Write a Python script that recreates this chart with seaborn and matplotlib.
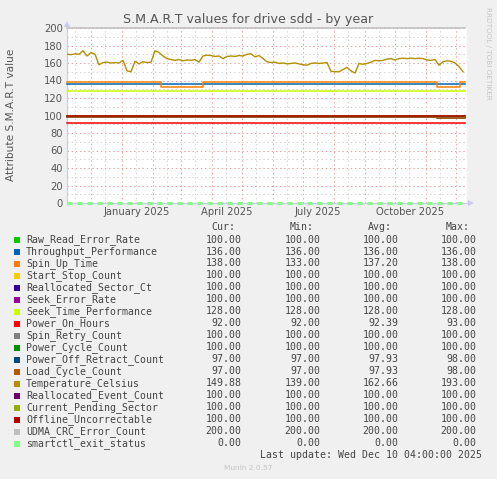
import numpy as np
import pandas as pd
import matplotlib
matplotlib.use("Agg")
import matplotlib.pyplot as plt
import matplotlib.dates as mdates
import matplotlib.transforms as mtrans
from matplotlib.ticker import MultipleLocator, NullFormatter
from matplotlib.patches import Rectangle, Polygon
import seaborn as sns

# ---------------- data ----------------
names = ["Raw_Read_Error_Rate", "Throughput_Performance", "Spin_Up_Time",
         "Start_Stop_Count", "Reallocated_Sector_Ct", "Seek_Error_Rate",
         "Seek_Time_Performance", "Power_On_Hours", "Spin_Retry_Count",
         "Power_Cycle_Count", "Power_Off_Retract_Count", "Load_Cycle_Count",
         "Temperature_Celsius", "Reallocated_Event_Count", "Current_Pending_Sector",
         "Offline_Uncorrectable", "UDMA_CRC_Error_Count", "smartctl_exit_status"]
colors = ["#00CC00", "#0066B3", "#FF8000", "#FFCC00", "#330099", "#990099",
          "#CCFF00", "#FF0000", "#808080", "#008F00", "#00487D", "#B35A00",
          "#B38F00", "#6B006B", "#8FB300", "#B30000", "#BEBEBE", "#80FF80"]
cur_vals = [100.00, 136.00, 138.00, 100.00, 100.00, 100.00, 128.00, 92.00, 100.00,
            100.00, 97.00, 97.00, 149.88, 100.00, 100.00, 100.00, 200.00, 0.00]
min_vals = [100.00, 136.00, 133.00, 100.00, 100.00, 100.00, 128.00, 92.00, 100.00,
            100.00, 97.00, 97.00, 139.00, 100.00, 100.00, 100.00, 200.00, 0.00]
avg_vals = [100.00, 136.00, 137.20, 100.00, 100.00, 100.00, 128.00, 92.39, 100.00,
            100.00, 97.93, 97.93, 162.66, 100.00, 100.00, 100.00, 200.00, 0.00]
max_vals = [100.00, 136.00, 138.00, 100.00, 100.00, 100.00, 128.00, 93.00, 100.00,
            100.00, 98.00, 98.00, 193.00, 100.00, 100.00, 100.00, 200.00, 0.00]

period_start = "2024-11-07"
period_end = "2025-12-10"

# Temperature, sampled every 4 days from period_start
temp_values = [170, 169.5, 170.5, 170, 174, 168, 172, 170, 158, 160.5,
               161, 160, 160.5, 160, 163, 151, 150, 162, 159, 161.5,
               160.5, 161, 174, 172, 168, 165, 164, 163, 164, 162.5,
               163.5, 163, 164, 161, 168, 169, 168.5, 167.5, 168, 165,
               167.5, 168, 167.5, 168.5, 168, 170, 170.5, 167, 168.5, 165,
               161.5, 160.5, 161, 159.5, 160, 159, 159.5, 160, 159, 158,
               157.5, 159.5, 160, 159.5, 160, 160.5, 150.5, 150, 150, 152.5,
               155, 151, 148.5, 159.5, 158.5, 159.5, 161, 163, 162.5, 163,
               164.5, 165, 163.5, 165, 165.5, 165, 165.5, 165, 165.5, 165,
               163.5, 163, 164, 157.5, 161.5, 162.5, 162, 160, 156, 150]

# step-wise series (change dates / values)
spin_up_dates = ["2024-11-07", "2025-02-09", "2025-03-23", "2025-11-12", "2025-12-05", "2025-12-10"]
spin_up_values = [138, 133, 138, 133, 138, 138]
retract_dates = ["2024-11-07", "2025-11-12", "2025-12-10"]
retract_values = [98, 97, 97]
load_cycle_dates = ["2024-11-07", "2025-11-12", "2025-12-10"]
load_cycle_values = [98, 97, 97]

step_series = {
    "Spin_Up_Time": (spin_up_dates, spin_up_values),
    "Power_Off_Retract_Count": (retract_dates, retract_values),
    "Load_Cycle_Count": (load_cycle_dates, load_cycle_values),
}

x_labels = ["January 2025", "April 2025", "July 2025", "October 2025"]
x_label_dates = ["2025-01-16", "2025-04-16", "2025-07-16", "2025-10-16"]

# ---------------- figure ----------------
W, H = 497, 479
BG = "#F0F0F0"
plt.rcParams["lines.scale_dashes"] = False
plt.rcParams["font.family"] = ["DejaVu Sans"]
fig = plt.figure(figsize=(W / 100, H / 100), dpi=100, facecolor=BG)
L, R, T, B = 67, 467, 28, 203
ax = fig.add_axes([L / W, 1 - B / H, (R - L) / W, (B - T) / H])
ax.set_facecolor("white")

t0 = pd.Timestamp(period_start)
t1 = pd.Timestamp(period_end)

for name, col in zip(names, colors):
    if name == "Temperature_Celsius":
        df = pd.DataFrame({"date": pd.date_range(period_start, periods=len(temp_values), freq="4D"),
                           "value": temp_values})
        sns.lineplot(data=df, x="date", y="value", color=col, lw=1.0, ax=ax,
                     estimator=None, zorder=3)
    else:
        if name in step_series:
            d, v = step_series[name]
        else:
            c = cur_vals[names.index(name)]
            d, v = [period_start, period_end], [c, c]
        df = pd.DataFrame({"date": pd.to_datetime(d), "value": v})
        kw = dict(drawstyle="steps-post", lw=1.1)
        if name == "smartctl_exit_status":
            kw = dict(lw=2.2, dashes=(3.6, 3.6))
        sns.lineplot(data=df, x="date", y="value", color=col, ax=ax,
                     estimator=None, zorder=3, clip_on=False, **kw)

ax.set_xlim(t0, t1 + pd.Timedelta(days=2))
ax.set_ylim(0, 200)
ax.set_xlabel("")
ax.set_ylabel("")

# grids
ax.yaxis.set_major_locator(MultipleLocator(20))
ax.yaxis.set_minor_locator(MultipleLocator(10))
ax.xaxis.set_major_locator(mdates.MonthLocator(bymonthday=1))
ax.xaxis.set_minor_locator(mdates.MonthLocator(bymonthday=15))
ax.xaxis.set_major_formatter(NullFormatter())
ax.grid(True, which="major", color="#F0A0A0", lw=0.75, ls=(0, (1, 2)))
ax.grid(True, which="minor", color="#D4D4D4", lw=0.75, ls=(0, (1, 2)))
ax.set_axisbelow(True)
ax.tick_params(axis="x", which="both", length=0)
ax.tick_params(axis="y", which="both", length=0, labelsize=7.2, labelcolor="#555555", pad=3)
for lab in ax.get_yticklabels():
    lab.set_fontfamily("DejaVu Sans")

for s in ["top", "right"]:
    ax.spines[s].set_visible(False)
ax.spines["left"].set_color("#C8C8F0")
ax.spines["bottom"].set_color("#C8C8F0")
ax.spines["left"].set_linewidth(0.8)
ax.spines["bottom"].set_linewidth(0.8)

trans = mtrans.blended_transform_factory(ax.transData, ax.transAxes)
for lbl, dt in zip(x_labels, x_label_dates):
    ax.text(pd.Timestamp(dt), -0.052, lbl, transform=trans, ha="center", va="center",
            fontsize=7.2, color="#555555")

# overlay in pixel coordinates
ov = fig.add_axes([0, 0, 1, 1])
ov.set_xlim(0, W)
ov.set_ylim(H, 0)
ov.axis("off")
ov.patch.set_alpha(0)

# axis arrows
ov.add_patch(Polygon([[64, 27], [70, 27], [67, 21]], closed=True, color="#C8C8F0", lw=0))
ov.add_patch(Polygon([[468, 200], [468, 206], [474, 203]], closed=True, color="#C8C8F0", lw=0))

ov.text(248.5, 19.5, "S.M.A.R.T values for drive sdd - by year", ha="center", va="center",
        fontsize=9.1, color="#555555")
ov.text(11, 115, "Attribute S.M.A.R.T value", rotation=90, ha="center", va="center",
        fontsize=7.6, color="#555555")
ov.text(488, 53, "RRDTOOL / TOBI OETIKER", rotation=-90, ha="center", va="center",
        fontsize=5.2, color="#C4C4C4")

mono = "DejaVu Sans Mono"
fs = 7.1
tc = "#444444"
hy = 226.7
for hx, h in zip([235, 314, 391.7, 470], ["Cur:", "Min:", "Avg:", "Max:"]):
    ov.text(hx, hy, h, ha="right", va="center", family=mono, fontsize=fs, color=tc)
for i, (n, c) in enumerate(zip(names, colors)):
    y = 239.5 + 12 * i
    ov.add_patch(Rectangle((14, y - 3), 6, 6, color=c, lw=0))
    ov.text(26, y, n, ha="left", va="center", family=mono, fontsize=fs, color=tc)
    for xr, vals in zip([241.7, 320.7, 398.7, 476.7], [cur_vals, min_vals, avg_vals, max_vals]):
        ov.text(xr, y, f"{vals[i]:.2f}", ha="right", va="center", family=mono,
                fontsize=fs, color=tc)
ov.text(482.3, 455.3, "Last update: Wed Dec 10 04:00:00 2025", ha="right", va="center",
        family=mono, fontsize=fs, color=tc)
ov.text(248, 468, "Munin 2.0.57", ha="center", va="center", fontsize=5.3, color="#C4C4C4")

fig.savefig("out.png", dpi=100, facecolor=BG)
